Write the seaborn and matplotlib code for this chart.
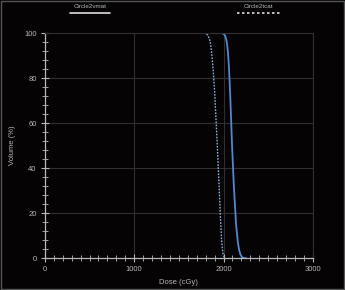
import pandas as pd
import seaborn as sns
from matplotlib import pyplot as plt
from matplotlib.lines import Line2D
from matplotlib.patches import Rectangle
from matplotlib.ticker import MultipleLocator

# DVH curves
vmat_dose = [0, 1980, 2000, 2015, 2028, 2040, 2050, 2060, 2075, 2095, 2115, 2140,
             2160, 2175, 2190, 2205, 2225, 2250]
vmat_vol = [100, 100, 99.7, 99, 97.5, 95, 91, 85, 72, 50, 32, 15, 7, 3.5, 1.5, 0.5, 0, 0]
tcat_dose = [0, 1780, 1805, 1825, 1840, 1855, 1870, 1885, 1900, 1915, 1930, 1950, 1965,
             1978, 1990, 2000, 2015]
tcat_vol = [100, 100, 99.7, 99, 97.5, 95, 90, 83, 74, 62, 50, 32, 18, 8, 3, 1, 0]
labels = ["Circle2vmat", "Circle2tcat"]

df_vmat = pd.DataFrame({"Dose": vmat_dose, "Volume": vmat_vol})
df_tcat = pd.DataFrame({"Dose": tcat_dose, "Volume": tcat_vol})

sns.set_theme(style="dark")
bg = "#050303"
fg = "#b8b8b8"
plt.rcParams["font.family"] = ["Liberation Sans", "DejaVu Sans"]

fig = plt.figure(figsize=(3.45, 2.9), dpi=100, facecolor=bg)
ax = fig.add_axes([0.130, 0.110, 0.777, 0.776], facecolor=bg)

sns.lineplot(x="Dose", y="Volume", data=df_vmat, ax=ax, color="#5088d2", lw=1.3)
sns.lineplot(x="Dose", y="Volume", data=df_tcat, ax=ax, color="#8fb0dc", lw=1.0,
             linestyle=(0, (1.2, 1.0)))

ax.set_xlim(0, 3000)
ax.set_ylim(0, 100)
ax.xaxis.set_major_locator(MultipleLocator(1000))
ax.xaxis.set_minor_locator(MultipleLocator(100))
ax.yaxis.set_major_locator(MultipleLocator(20))
ax.yaxis.set_minor_locator(MultipleLocator(4))

ax.grid(True, which="major", color="#2f2f2f", lw=0.8)
ax.tick_params(which="major", direction="inout", length=6, width=0.8, color=fg,
               labelcolor=fg, labelsize=5.5, bottom=True, left=True, pad=3)
ax.tick_params(which="minor", direction="inout", length=4, width=0.6, color=fg,
               bottom=True, left=True)
for side in ["left", "bottom"]:
    ax.spines[side].set_color(fg)
    ax.spines[side].set_linewidth(0.9)
for side in ["top", "right"]:
    ax.spines[side].set_color("#2f2f2f")
    ax.spines[side].set_linewidth(0.8)

ax.set_xlabel("Dose (cGy)", color=fg, fontsize=5.5, labelpad=4)
ax.set_ylabel("Volume (%)", color=fg, fontsize=5.5, labelpad=6)

# legend drawn above the plot: label over a line sample
fig.text(90 / 345, 1 - 7 / 290, labels[0], color=fg, fontsize=4.5, ha="center", va="center")
fig.add_artist(Line2D([70 / 345, 110 / 345], [1 - 13 / 290] * 2, color="#dddddd", lw=1.2,
                      transform=fig.transFigure))
fig.text(258 / 345, 1 - 7 / 290, labels[1], color=fg, fontsize=4.5, ha="center", va="center")
fig.add_artist(Line2D([237 / 345, 280 / 345], [1 - 13 / 290] * 2, color="#dddddd", lw=1.2,
                      linestyle=(0, (1.5, 1.5)), transform=fig.transFigure))

# thin frame around the whole picture
fig.add_artist(Rectangle((0.003, 0.003), 0.994, 0.994, fill=False, ec="#555555", lw=1,
                         transform=fig.transFigure))

fig.savefig("out.png", dpi=100, facecolor=bg)
